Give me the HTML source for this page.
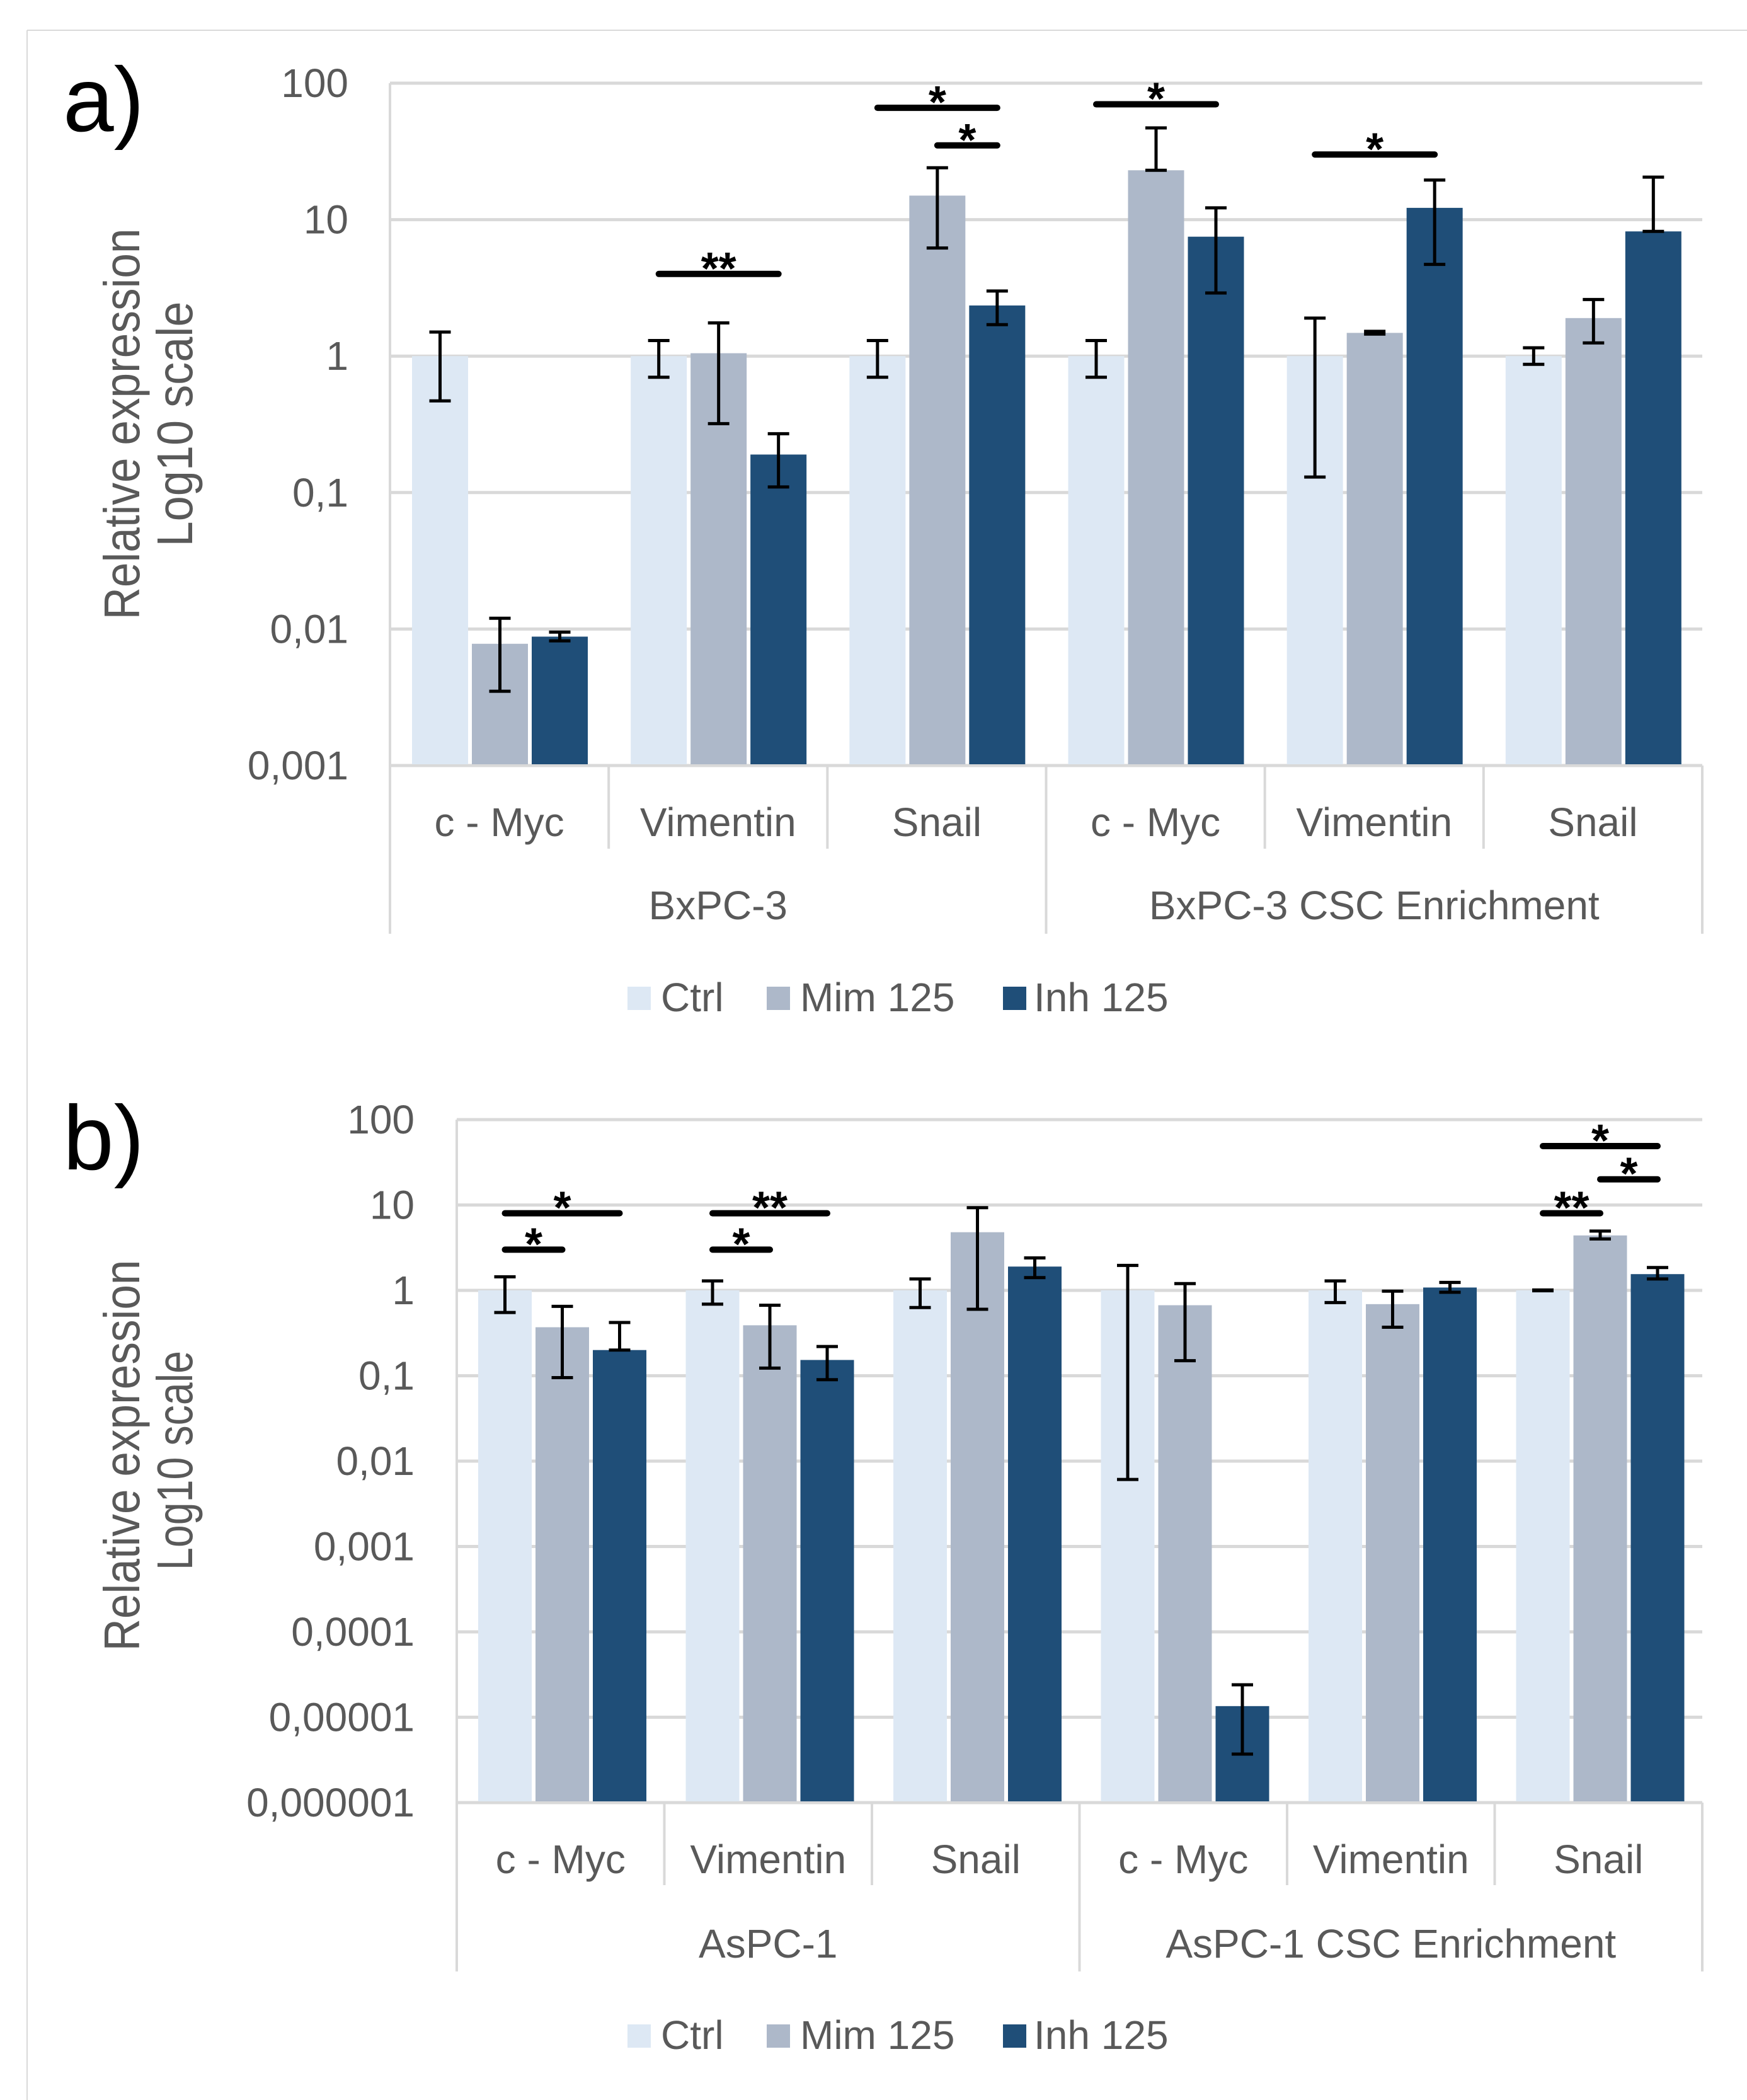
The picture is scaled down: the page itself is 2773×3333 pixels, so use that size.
<!DOCTYPE html>
<html><head><meta charset="utf-8"><style>
html,body{margin:0;padding:0;background:#fff}
svg{display:block}
text{font-family:"Liberation Sans",Arial,sans-serif}
</style></head><body>
<svg id="fig" width="2773" height="3333" viewBox="0 0 2773 3333" xmlns="http://www.w3.org/2000/svg">
<rect x="0" y="0" width="2773" height="3333" fill="#fff"/>
<line x1="43" y1="48" x2="2773" y2="48" stroke="#d9d9d9" stroke-width="2"/>
<line x1="43" y1="48" x2="43" y2="3333" stroke="#d9d9d9" stroke-width="2"/>
</svg>
<script>
// ---- shared data ----
const seriesNames = ["Ctrl", "Mim 125", "Inh 125"];
const seriesColors = ["#dde8f4", "#adb8c9", "#1f4e78"];
const genes = ["c - Myc", "Vimentin", "Snail", "c - Myc", "Vimentin", "Snail"];

// ---- panel a data ----
const aGroups = ["BxPC-3", "BxPC-3 CSC Enrichment"];
const aTicks = ["100", "10", "1", "0,1", "0,01", "0,001"];
const aCtrl = [1, 1, 1, 1, 1, 1];
const aMim = [0.0078, 1.05, 15, 23, 1.48, 1.9];
const aInh = [0.0088, 0.19, 2.35, 7.5, 12.2, 8.2];
const aErrLo = [[0.47, 0.0035, 0.0082], [0.7, 0.32, 0.11], [0.7, 6.2, 1.7], [0.7, 23, 2.9], [0.13, 1.45, 4.7], [0.87, 1.25, 8.2]];
const aErrHi = [[1.5, 0.012, 0.0095], [1.3, 1.75, 0.27], [1.3, 24, 3.0], [1.3, 47, 12.2], [1.9, 1.52, 19.5], [1.15, 2.6, 20.5]];
// significance: [category, fromSeries, toSeries, level value, label]
const aSig = [[1, 0, 2, 4, "**"], [2, 0, 2, 66, "*"], [2, 1, 2, 35, "*"], [3, 0, 2, 70, "*"], [4, 0, 2, 30, "*"]];

// ---- panel b data ----
const bGroups = ["AsPC-1", "AsPC-1 CSC Enrichment"];
const bTicks = ["100", "10", "1", "0,1", "0,01", "0,001", "0,0001", "0,00001", "0,000001"];
const bCtrl = [1, 1, 1, 1, 1, 1];
const bMim = [0.37, 0.39, 4.8, 0.67, 0.69, 4.4];
const bInh = [0.2, 0.153, 1.9, 0.0000135, 1.08, 1.55];
const bErrLo = [[0.55, 0.095, 0.2], [0.69, 0.123, 0.09], [0.63, 0.6, 1.41], [0.0061, 0.15, 0.0000037], [0.72, 0.37, 0.95], [0.99, 4.0, 1.36]];
const bErrHi = [[1.44, 0.65, 0.42], [1.29, 0.67, 0.22], [1.36, 9.3, 2.4], [1.96, 1.2, 0.000024], [1.29, 0.98, 1.24], [1.01, 4.95, 1.85]];
const bSig = [[0, 0, 2, 8, "*"], [0, 0, 1, 3, "*"], [1, 0, 2, 8, "**"], [1, 0, 1, 3, "*"], [5, 0, 2, 49, "*"], [5, 1, 2, 20, "*"], [5, 0, 1, 8, "**"]];

const NS = "http://www.w3.org/2000/svg";
const svg = document.getElementById("fig");
function mk(tag, attrs, parent, txt) {
  const e = document.createElementNS(NS, tag);
  for (const k in attrs) e.setAttribute(k, attrs[k]);
  if (txt !== undefined) e.textContent = txt;
  (parent || svg).appendChild(e);
  return e;
}

function drawPanel(P) {
  const g = mk("g", {});
  
  
  const nDec = P.ticks.length - 1;
  const dec = (P.bottom - P.top) / nDec;
  const maxLog = 2;
  const y = v => P.top + (maxLog - Math.log10(v)) * dec;
  const cw = (P.right - P.left) / genes.length;
  const bx = (c, s) => P.left + c * cw + P.off + s * (P.bw + P.gap);
  const bc = (c, s) => bx(c, s) + P.bw / 2;

  const pl = mk("text", {x: 100, y: P.labelY, "font-size": 145, fill: "#000"}, g, P.label);
  
  

  P.ticks.forEach((t, i) => {
    const yy = P.top + i * dec;
    const gl = mk("line", {x1: P.left, x2: P.right, y1: yy, y2: yy, stroke: "#d9d9d9", "stroke-width": 5}, g);
    
    
    const tl = mk("text", {x: P.tickX, y: yy + 22, "font-size": 64, fill: "#595959", "text-anchor": "end"}, g, t);
    
    
  });
  const ax = mk("line", {x1: P.left, x2: P.left, y1: P.top, y2: P.groupLineEnd, stroke: "#d9d9d9", "stroke-width": 4}, g);
  
  

  const t1 = mk("text", {x: 0, y: 0, "font-size": 80, fill: "#595959", "text-anchor": "middle",
    transform: `translate(221 ${P.titleY}) rotate(-90)`, textLength: 621, lengthAdjust: "spacingAndGlyphs"}, g, "Relative expression");
  
  
  const t2 = mk("text", {x: 0, y: 0, "font-size": 80, fill: "#595959", "text-anchor": "middle",
    transform: `translate(305 ${P.titleY2}) rotate(-90)`, textLength: P.title2Len, lengthAdjust: "spacingAndGlyphs"}, g, "Log10 scale");
  
  

  const vals = [P.ctrl, P.mim, P.inh];
  genes.forEach((gn, c) => {
    vals.forEach((arr, s) => {
      const v = arr[c];
      const yt = y(v);
      const r = mk("rect", {x: bx(c, s), y: yt, width: P.bw, height: P.bottom - yt, fill: seriesColors[s]}, g);
      
      
    });
  });
  genes.forEach((gn, c) => {
    for (let s = 0; s < 3; s++) {
      const cx = bc(c, s), y1 = y(P.errHi[c][s]), y2 = y(P.errLo[c][s]);
      const eg = mk("g", {stroke: "#000", "stroke-width": 5}, g);
      
      
      mk("line", {x1: cx, x2: cx, y1: y1, y2: y2}, eg);
      mk("line", {x1: cx - 17, x2: cx + 17, y1: y1, y2: y1}, eg);
      mk("line", {x1: cx - 17, x2: cx + 17, y1: y2, y2: y2}, eg);
    }
  });
  const xl = mk("line", {x1: P.left, x2: P.right, y1: P.bottom, y2: P.bottom, stroke: "#d9d9d9", "stroke-width": 4}, g);
  
  
  for (let c = 1; c <= genes.length; c++) {
    const xx = P.left + c * cw;
    const end = (c === 3 || c === 6) ? P.groupLineEnd : P.catLineEnd;
    const sl = mk("line", {x1: xx, x2: xx, y1: P.bottom, y2: end, stroke: "#d9d9d9", "stroke-width": 4}, g);
    
    
  }
  genes.forEach((gn, c) => {
    const t = mk("text", {x: P.left + (c + 0.5) * cw, y: P.catY, "font-size": 64, fill: "#595959", "text-anchor": "middle"}, g, gn);
    
    
  });
  P.groups.forEach((gr, i) => {
    const t = mk("text", {x: P.left + (i * 3 + 1.5) * cw, y: P.groupY, "font-size": 64, fill: "#595959", "text-anchor": "middle"}, g, gr);
    
    
  });
  P.sig.forEach(sg => {
    const [c, a, b, lv, lab] = sg;
    const x1 = bc(c, a), x2 = bc(c, b), yy = y(lv);
    const sgG = mk("g", {}, g);
    
    
    mk("line", {x1: x1, x2: x2, y1: yy, y2: yy, stroke: "#000", "stroke-width": 10, "stroke-linecap": "round"}, sgG);
    mk("text", {x: (x1 + x2) / 2, y: yy + 16, "font-size": 72, "font-weight": "bold", fill: "#000", "text-anchor": "middle"}, sgG, lab);
  });
  const lx = [996, 1217, 1592], tx = [1049, 1270, 1641];
  seriesNames.forEach((nm, s) => {
    const lg = mk("g", {}, g);
    
    
    mk("rect", {x: lx[s], y: P.legY - 39, width: 37, height: 37, fill: seriesColors[s]}, lg);
    mk("text", {x: tx[s], y: P.legY, "font-size": 64, fill: "#595959"}, lg, nm);
  });
}

drawPanel({id: "a", label: "a)", labelY: 208, ticks: aTicks, top: 132, bottom: 1215, left: 619, right: 2702,
  off: 35, bw: 89, gap: 6, tickX: 553, titleY: 673, titleY2: 673, title2Len: 389,
  ctrl: aCtrl, mim: aMim, inh: aInh, errLo: aErrLo, errHi: aErrHi, sig: aSig, groups: aGroups,
  catLineEnd: 1347, groupLineEnd: 1482, catY: 1327, groupY: 1459, legY: 1605});
drawPanel({id: "b", label: "b)", labelY: 1856, ticks: bTicks, top: 1777, bottom: 2861, left: 725, right: 2702,
  off: 34, bw: 85, gap: 6, tickX: 658, titleY: 2310, titleY2: 2318, title2Len: 348,
  ctrl: bCtrl, mim: bMim, inh: bInh, errLo: bErrLo, errHi: bErrHi, sig: bSig, groups: bGroups,
  catLineEnd: 2992, groupLineEnd: 3129, catY: 2973, groupY: 3107, legY: 3252});
</script>
</body></html>
